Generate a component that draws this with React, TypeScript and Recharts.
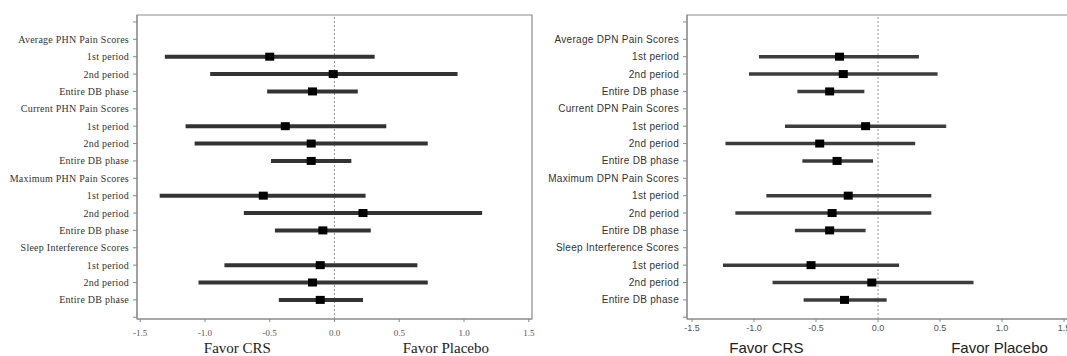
import React from "react";
import { ScatterChart, Scatter, XAxis, YAxis, ErrorBar, ReferenceLine, ReferenceArea } from "recharts";

const phnLabels = [
  "Average PHN Pain Scores", "1st period", "2nd period", "Entire DB phase",
  "Current PHN Pain Scores", "1st period", "2nd period", "Entire DB phase",
  "Maximum PHN Pain Scores", "1st period", "2nd period", "Entire DB phase",
  "Sleep Interference Scores", "1st period", "2nd period", "Entire DB phase",
];
const phnMean = [null, -0.5, -0.01, -0.17, null, -0.38, -0.18, -0.18, null, -0.55, 0.22, -0.09, null, -0.11, -0.17, -0.11];
const phnLow = [null, -1.31, -0.96, -0.52, null, -1.15, -1.08, -0.49, null, -1.35, -0.7, -0.46, null, -0.85, -1.05, -0.43];
const phnHigh = [null, 0.31, 0.95, 0.18, null, 0.4, 0.72, 0.13, null, 0.24, 1.14, 0.28, null, 0.64, 0.72, 0.22];

const dpnLabels = [
  "Average DPN Pain Scores", "1st period", "2nd period", "Entire DB phase",
  "Current DPN Pain Scores", "1st period", "2nd period", "Entire DB phase",
  "Maximum DPN Pain Scores", "1st period", "2nd period", "Entire DB phase",
  "Sleep Interference Scores", "1st period", "2nd period", "Entire DB phase",
];
const dpnMean = [null, -0.31, -0.28, -0.39, null, -0.1, -0.47, -0.33, null, -0.24, -0.37, -0.39, null, -0.54, -0.05, -0.27];
const dpnLow = [null, -0.96, -1.04, -0.65, null, -0.75, -1.23, -0.61, null, -0.9, -1.15, -0.67, null, -1.25, -0.85, -0.6];
const dpnHigh = [null, 0.33, 0.48, -0.11, null, 0.55, 0.3, -0.04, null, 0.43, 0.43, -0.1, null, 0.17, 0.77, 0.07];

const xTicks = [-1.5, -1, -0.5, 0, 0.5, 1, 1.5];
const yTicks = [0, 1, 2, 3, 4, 5, 6, 7, 8, 9, 10, 11, 12, 13, 14, 15, 16, 17];
const yDomain: [number, number] = [-0.4, 17.1];
const sideTitles = ["Favor CRS", "Favor Placebo"];

type Num = number | null;

function buildRows(mean: Num[], low: Num[], high: Num[]) {
  const rows: { row: number; est: number; err: number[] }[] = [];
  mean.forEach((m, i) => {
    if (m === null) return;
    rows.push({ row: i + 1, est: m, err: [m - (low[i] as number), (high[i] as number) - m] });
  });
  return rows;
}

interface PanelProps {
  labels: string[];
  mean: Num[];
  low: Num[];
  high: Num[];
  font: string;
  left: number;
  width: number;
  yAxisWidth: number;
  marginRight: number;
  xDomain: [number, number];
  titleAt: [number, number];
  labelSize: number;
  labelSpacing: number;
  tickSize: number;
  titleSize: number;
  tickMargin: number;
  barColor: string;
  barWidth: number;
}

function Titles(props: any) {
  const { viewBox, xDomain, titleAt, titleSize, font } = props;
  if (!viewBox) return null;
  const toX = (v: number) => viewBox.x + ((v - xDomain[0]) / (xDomain[1] - xDomain[0])) * viewBox.width;
  return (
    <g>
      {sideTitles.map((t, i) => (
        <text key={t} x={toX(titleAt[i])} y={viewBox.y + 34} textAnchor="middle" fontSize={titleSize} fontFamily={font} fill="#222">
          {t}
        </text>
      ))}
    </g>
  );
}

function Panel(p: PanelProps) {
  const data = buildRows(p.mean, p.low, p.high);
  const box = "#8a8a8a";
  const RowTick = (t: any) => (
    <text
      x={t.x}
      y={t.y}
      dy="0.35em"
      textAnchor="end"
      fontSize={p.labelSize}
      letterSpacing={p.labelSpacing}
      fontFamily={p.font}
      fill="#333"
    >
      {p.labels[t.payload.value - 1] ?? ""}
    </text>
  );
  return (
    <div style={{ position: "absolute", left: p.left, top: 0 }}>
      <ScatterChart width={p.width} height={356} margin={{ top: 15, right: p.marginRight, bottom: 0, left: 0 }}>
        <XAxis
          type="number"
          dataKey="est"
          domain={p.xDomain}
          allowDataOverflow
          ticks={xTicks}
          interval={0}
          tickFormatter={(v: number) => v.toFixed(1)}
          tick={{ fontSize: p.tickSize, fill: "#555", fontFamily: p.font }}
          tickSize={3}
          tickMargin={p.tickMargin}
          tickLine={{ stroke: box }}
          axisLine={{ stroke: box }}
          height={37}
          label={<Titles xDomain={p.xDomain} titleAt={p.titleAt} titleSize={p.titleSize} font={p.font} />}
        />
        <YAxis
          type="number"
          dataKey="row"
          domain={yDomain}
          allowDataOverflow
          reversed
          ticks={yTicks}
          interval={0}
          tick={RowTick}
          tickSize={4}
          tickMargin={4}
          tickLine={{ stroke: box }}
          axisLine={{ stroke: box }}
          width={p.yAxisWidth}
        />
        <ReferenceArea x1={p.xDomain[0]} x2={p.xDomain[1]} y1={yDomain[0]} y2={yDomain[1]} fill="none" stroke={box} strokeWidth={1.2} />
        <ReferenceLine x={0} stroke="#999" strokeDasharray="2 2" />
        <Scatter
          data={data}
          isAnimationActive={false}
          shape={(s: any) => <rect x={s.cx - 4.5} y={s.cy - 4} width={9} height={8} fill="#000" />}
        >
          <ErrorBar dataKey="err" direction="x" width={0} stroke={p.barColor} strokeWidth={p.barWidth} isAnimationActive={false} />
        </Scatter>
      </ScatterChart>
    </div>
  );
}

export default function App() {
  return (
    <div style={{ position: "absolute", left: 0, top: 0, width: 1067, height: 356, overflow: "hidden", background: "#fff" }}>
      <Panel
        labels={phnLabels}
        mean={phnMean}
        low={phnLow}
        high={phnHigh}
        font="'Liberation Serif', 'DejaVu Serif', serif"
        left={0}
        width={540}
        yAxisWidth={137}
        marginRight={8}
        xDomain={[-1.525, 1.525]}
        titleAt={[-0.75, 0.86]}
        labelSize={10}
        labelSpacing={0.25}
        tickSize={9}
        titleSize={15}
        tickMargin={8}
        barColor="#333"
        barWidth={4}
      />
      <Panel
        labels={dpnLabels}
        mean={dpnMean}
        low={dpnLow}
        high={dpnHigh}
        font="'Liberation Sans', Arial, sans-serif"
        left={540}
        width={540}
        yAxisWidth={147}
        marginRight={11}
        xDomain={[-1.54, 1.54]}
        titleAt={[-0.9, 0.98]}
        labelSize={10}
        labelSpacing={0.3}
        tickSize={9}
        titleSize={15}
        tickMargin={3}
        barColor="#3c3c3c"
        barWidth={3.5}
      />
    </div>
  );
}
